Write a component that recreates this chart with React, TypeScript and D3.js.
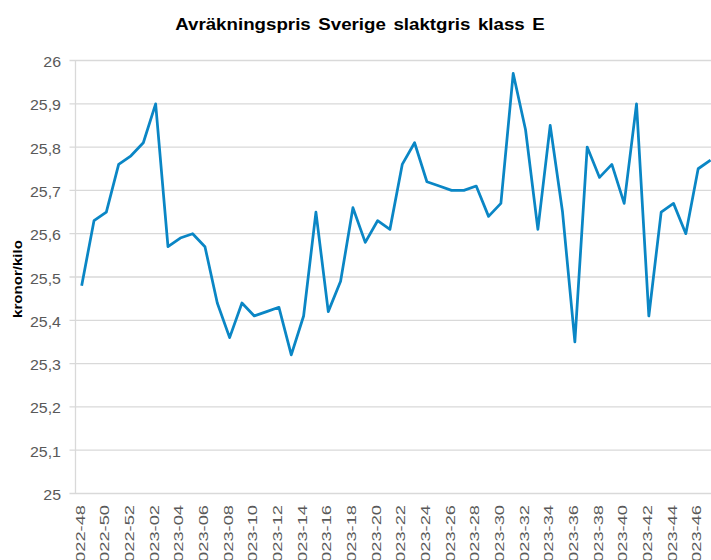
import React from "react";
import * as d3 from "d3";

const title = "Avräkningspris Sverige slaktgris klass E";
const yTitle = "kronor/kilo";

const weeks = [
  "2022-48", "2022-49", "2022-50", "2022-51", "2022-52",
  "2023-01", "2023-02", "2023-03", "2023-04", "2023-05", "2023-06", "2023-07", "2023-08",
  "2023-09", "2023-10", "2023-11", "2023-12", "2023-13", "2023-14", "2023-15", "2023-16",
  "2023-17", "2023-18", "2023-19", "2023-20", "2023-21", "2023-22", "2023-23", "2023-24",
  "2023-25", "2023-26", "2023-27", "2023-28", "2023-29", "2023-30", "2023-31", "2023-32",
  "2023-33", "2023-34", "2023-35", "2023-36", "2023-37", "2023-38", "2023-39", "2023-40",
  "2023-41", "2023-42", "2023-43", "2023-44", "2023-45", "2023-46", "2023-47",
];

const prices = [
  25.48, 25.63, 25.65, 25.76, 25.78, 25.81, 25.90, 25.57, 25.59, 25.60, 25.57, 25.44, 25.36,
  25.44, 25.41, 25.42, 25.43, 25.32, 25.41, 25.65, 25.42, 25.49, 25.66, 25.58, 25.63, 25.61,
  25.76, 25.81, 25.72, 25.71, 25.70, 25.70, 25.71, 25.64, 25.67, 25.97, 25.84, 25.61, 25.85,
  25.65, 25.35, 25.80, 25.73, 25.76, 25.67, 25.90, 25.41, 25.65, 25.67, 25.60, 25.75, 25.77,
];

const yTicks = [25, 25.1, 25.2, 25.3, 25.4, 25.5, 25.6, 25.7, 25.8, 25.9, 26];
const xTickLabels = weeks.filter((_, i) => i % 2 === 0);

const W = 711;
const H = 560;
const left = 75.5;
const band = 12.33;
const top = 60.5;
const bottom = 493.5;

export default function App() {
  const x = d3
    .scaleBand<string>()
    .domain(weeks)
    .range([left, left + band * weeks.length])
    .padding(0);
  const y = d3.scaleLinear().domain([25, 26]).range([bottom, top]);
  const cx = (w: string) => (x(w) as number) + x.bandwidth() / 2;

  const line = d3
    .line<number>()
    .x((_, i) => cx(weeks[i]))
    .y((d) => y(d));

  const fmt = (v: number) => (Math.round(v * 10) / 10).toString().replace(".", ",");
  const right = left + band * weeks.length;

  return (
    <svg
      width={W}
      height={H}
      style={{ position: "absolute", left: 0, top: 0, background: "#fff" }}
      fontFamily="'Liberation Sans', Arial, sans-serif"
    >
      <rect x={0} y={0} width={W} height={H} fill="#fff" />
      <text
        transform={`translate(360,30) scale(1.17,1)`}
        textAnchor="middle"
        fontWeight="bold"
        fontSize={16}
        fill="#000"
        wordSpacing={2}
      >
        {title}
      </text>

      {yTicks.map((t) => (
        <g key={t}>
          <line x1={69.5} x2={right} y1={y(t)} y2={y(t)} stroke="#d9d9d9" strokeWidth={1.3} />
          <text
            transform={`translate(61,${y(t) + 6.5}) scale(1.14,1)`}
            textAnchor="end"
            fontSize={14}
            fill="#595959"
          >
            {fmt(t)}
          </text>
        </g>
      ))}
      <line x1={left} x2={left} y1={top} y2={bottom} stroke="#d9d9d9" strokeWidth={1.3} />

      {xTickLabels.map((w) => (
        <text
          key={w}
          transform={`translate(${cx(w) + 3},505) rotate(-90) scale(1.45,1)`}
          textAnchor="end"
          fontSize={12.6}
          fill="#595959"
        >
          {w}
        </text>
      ))}

      <text
        transform={`translate(22,279) rotate(-90) scale(1.1,1)`}
        textAnchor="middle"
        fontWeight="bold"
        fontSize={13.7}
        fill="#000"
      >
        {yTitle}
      </text>

      <path
        d={line(prices) || ""}
        fill="none"
        stroke="#0a86c5"
        strokeWidth={2.75}
        strokeLinejoin="round"
      />
    </svg>
  );
}
